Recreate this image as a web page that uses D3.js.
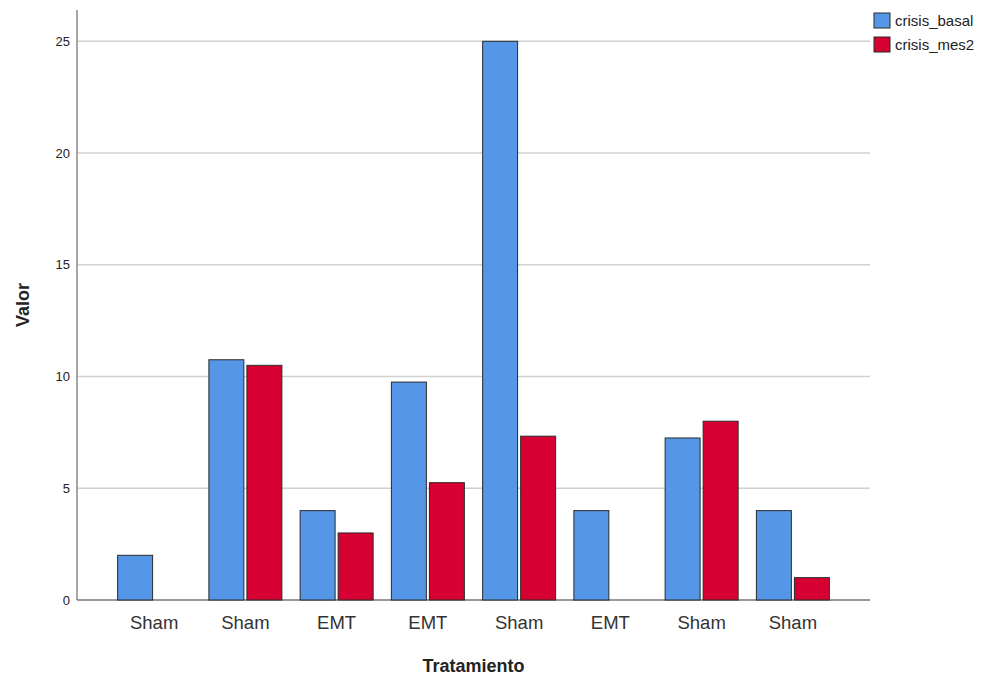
<!DOCTYPE html>
<html><head><meta charset="utf-8">
<script src="https://cdn.jsdelivr.net/npm/d3@7"></script>
<style>body{margin:0;background:#fff}svg{display:block}</style>
</head><body>
<script>
const categories = ["Sham","Sham","EMT","EMT","Sham","EMT","Sham","Sham"];
const seriesNames = ["crisis_basal","crisis_mes2"];
const crisisBasal = [2, 10.75, 4, 9.75, 25, 4, 7.25, 4];
const crisisMes2 = [0, 10.5, 3, 5.25, 7.33, 0, 8, 1];
const yTicks = [0,5,10,15,20,25];
const colors = ["#5596E6","#D60032"];

const W=997,H=677;
const svg=d3.select("body").append("svg").attr("width",W).attr("height",H);
const plot={left:77,right:870,top:10,bottom:600};
const x=d3.scaleBand().domain(d3.range(categories.length)).range([108.5,838.5]).paddingInner(0.2).paddingOuter(0.1);
const y=d3.scaleLinear().domain([0,26.4]).range([plot.bottom,plot.top]);
const xs=d3.scaleBand().domain([0,1]).range([0,x.bandwidth()]).paddingInner(0.08);

// gridlines
svg.append("g").selectAll("line").data(yTicks.filter(d=>d>0)).join("line")
  .attr("x1",plot.left).attr("x2",plot.right).attr("y1",d=>y(d)).attr("y2",d=>y(d))
  .attr("stroke","#d0d0d0").attr("stroke-width",1.5);

// axes (drawn before bars so zero-height bars show their outline)
const ya=svg.append("g").attr("transform",`translate(${plot.left},0)`)
  .call(d3.axisLeft(y).tickValues(yTicks).tickSize(0).tickPadding(7));
ya.select(".domain").attr("stroke","#888").attr("stroke-width",1.5).attr("d",`M0,${plot.top}V${plot.bottom}`);
ya.selectAll("text").attr("font-family","Arial, Liberation Sans, sans-serif").attr("font-size",13).attr("fill","#222");

const xa=svg.append("g").attr("transform",`translate(0,${plot.bottom})`)
  .call(d3.axisBottom(x).tickFormat(i=>categories[i]).tickSize(0).tickPadding(16));
xa.select(".domain").attr("stroke","#777").attr("stroke-width",1.5).attr("d",`M${plot.left},0H${plot.right}`);
xa.selectAll("text").attr("font-family","Arial, Liberation Sans, sans-serif").attr("font-size",18.5).attr("fill","#333");

// bars
const series=[crisisBasal,crisisMes2];
const g=svg.append("g");
categories.forEach((c,i)=>{
  series.forEach((s,j)=>{
    g.append("rect").attr("x",x(i)+xs(j)).attr("width",xs.bandwidth())
     .attr("y",y(s[i])).attr("height",y(0)-y(s[i]))
     .attr("fill",colors[j]).attr("stroke","#2a2a2a").attr("stroke-width",1);
  });
});

// titles
svg.append("text").attr("x",(plot.left+plot.right)/2).attr("y",672).attr("text-anchor","middle")
 .attr("font-family","Arial, Liberation Sans, sans-serif").attr("font-weight","bold").attr("font-size",18).attr("fill","#222").text("Tratamiento");
svg.append("text").attr("transform",`translate(29,305) rotate(-90)`).attr("text-anchor","middle")
 .attr("font-family","Arial, Liberation Sans, sans-serif").attr("font-weight","bold").attr("font-size",18).attr("fill","#222").text("Valor");

// legend
const lg=svg.append("g").attr("transform","translate(874,13)");
seriesNames.forEach((n,j)=>{
  lg.append("rect").attr("x",0).attr("y",j*24).attr("width",16).attr("height",15)
    .attr("fill",colors[j]).attr("stroke","#2a2a2a").attr("stroke-width",1);
  lg.append("text").attr("x",21).attr("y",j*24+13).attr("font-family","Arial, Liberation Sans, sans-serif")
    .attr("font-size",15).attr("fill","#222").text(n);
});
</script>
</body></html>
